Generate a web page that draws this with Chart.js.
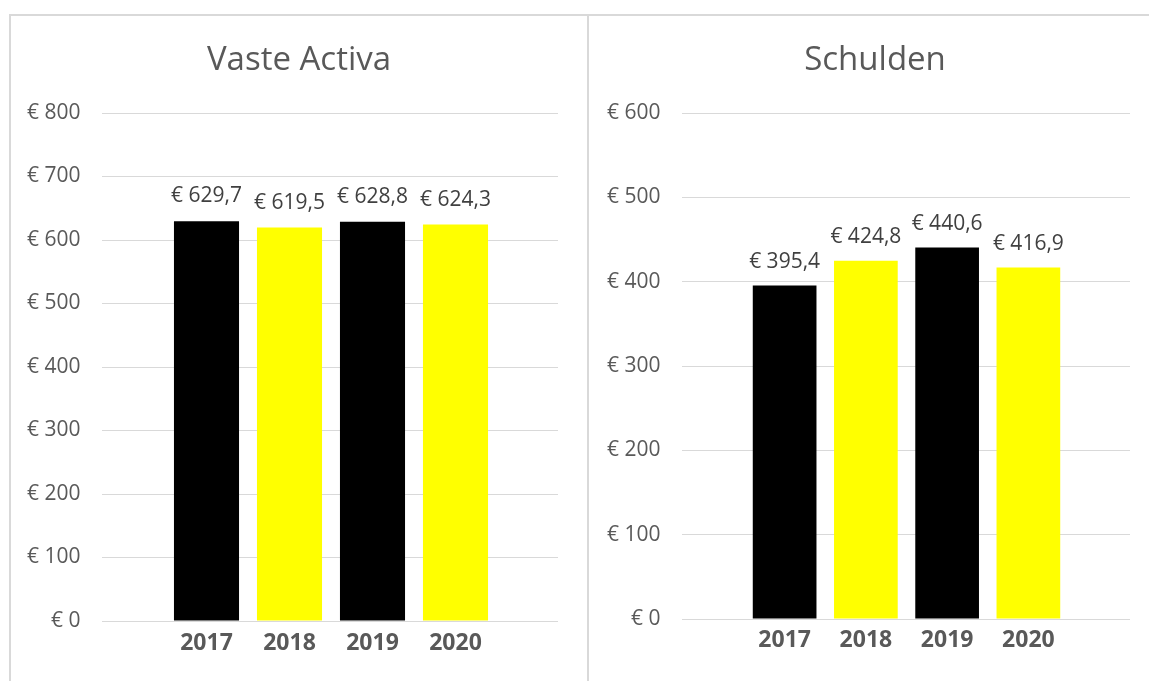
<!DOCTYPE html>
<html>
<head>
<meta charset="utf-8">
<script src="https://cdn.jsdelivr.net/npm/chart.js"></script>
<style>
body{margin:0;background:#fff;overflow:hidden;width:1149px;height:681px;position:relative;}
.lijn{position:absolute;background:#d9d9d9;}
.vak{position:absolute;top:16px;height:665px;}
</style>
</head>
<body>
<div class="lijn" style="left:9px;top:14px;width:1140px;height:2px"></div>
<div class="lijn" style="left:9px;top:14px;width:2px;height:667px"></div>
<div class="lijn" style="left:587px;top:14px;width:2px;height:667px"></div>
<div class="vak" style="left:11px;width:576px"><canvas id="grafActiva"></canvas></div>
<div class="vak" style="left:589px;width:572px"><canvas id="grafSchulden"></canvas></div>
<script>
const jaren = ['2017', '2018', '2019', '2020'];
const vasteActiva = [629.7, 619.5, 628.8, 624.3];
const schulden = [395.4, 424.8, 440.6, 416.9];
const kleuren = ['#000000', '#FFFF00', '#000000', '#FFFF00'];
const activaMax = 800;
const schuldenMax = 600;
const stap = 100;

// labels boven de staven
const waardeLabels = {
  id: 'waardeLabels',
  afterDatasetsDraw(chart, args, opts) {
    const ctx = chart.ctx;
    const meta = chart.getDatasetMeta(0);
    ctx.save();
    ctx.font = '21px "Open Sans"';
    ctx.fillStyle = '#404040';
    ctx.textAlign = 'center';
    ctx.textBaseline = 'middle';
    meta.data.forEach((bar, i) => {
      const v = chart.data.datasets[0].data[i];
      ctx.fillText('€ ' + v.toFixed(1).replace('.', ','), bar.x, bar.y - opts.afstand);
    });
    ctx.restore();
  }
};

function tekenGrafiek(id, titel, waarden, max, m) {
  new Chart(document.getElementById(id), {
    type: 'bar',
    data: {
      labels: jaren,
      datasets: [{
        data: waarden,
        backgroundColor: kleuren,
        barPercentage: 0.784,
        categoryPercentage: 1
      }]
    },
    plugins: [waardeLabels],
    options: {
      responsive: true,
      maintainAspectRatio: false,
      animation: false,
      layout: { padding: { left: 0, right: 0, top: 0, bottom: m.onder } },
      plugins: {
        legend: { display: false },
        tooltip: { enabled: false },
        title: {
          display: true,
          text: titel,
          color: '#595959',
          font: { family: 'Open Sans', size: 33, weight: 'normal' },
          padding: { top: 24.8, bottom: 32.6 }
        },
        waardeLabels: { afstand: m.afstand }
      },
      scales: {
        x: {
          grid: { display: false },
          border: { display: false },
          ticks: {
            color: '#595959',
            padding: m.jaarPad,
            font: { family: 'Open Sans', size: 23, weight: 'bold' }
          }
        },
        y: {
          min: 0,
          max: max,
          afterFit: s => { s.width = m.asBreedte; },
          grid: { color: '#d9d9d9', lineWidth: 1, drawTicks: true, tickLength: m.tickLinks },
          border: { display: false },
          ticks: {
            stepSize: stap,
            padding: m.labelPad,
            color: '#595959',
            font: { family: 'Open Sans', size: 21 },
            callback: v => '€ ' + v
          }
        },
        y2: {
          display: true,
          position: 'right',
          min: 0,
          max: max,
          afterFit: s => { s.width = m.tickRechts + m.rechts; },
          grid: { color: '#d9d9d9', lineWidth: 1, drawOnChartArea: false, drawTicks: true, tickLength: m.tickRechts },
          border: { display: false },
          ticks: { stepSize: stap, display: false }
        }
      }
    }
  });
}

tekenGrafiek('grafActiva', 'Vaste Activa', vasteActiva, activaMax,
  { asBreedte: 154, tickLinks: 63, labelPad: 21.5, tickRechts: 61, rechts: 29, onder: 22.4, jaarPad: 1, afstand: 25 });
tekenGrafiek('grafSchulden', 'Schulden', schulden, schuldenMax,
  { asBreedte: 155, tickLinks: 62, labelPad: 21.5, tickRechts: 61, rechts: 31, onder: 26.4, jaarPad: 0, afstand: 23.5 });
</script>
</body>
</html>
